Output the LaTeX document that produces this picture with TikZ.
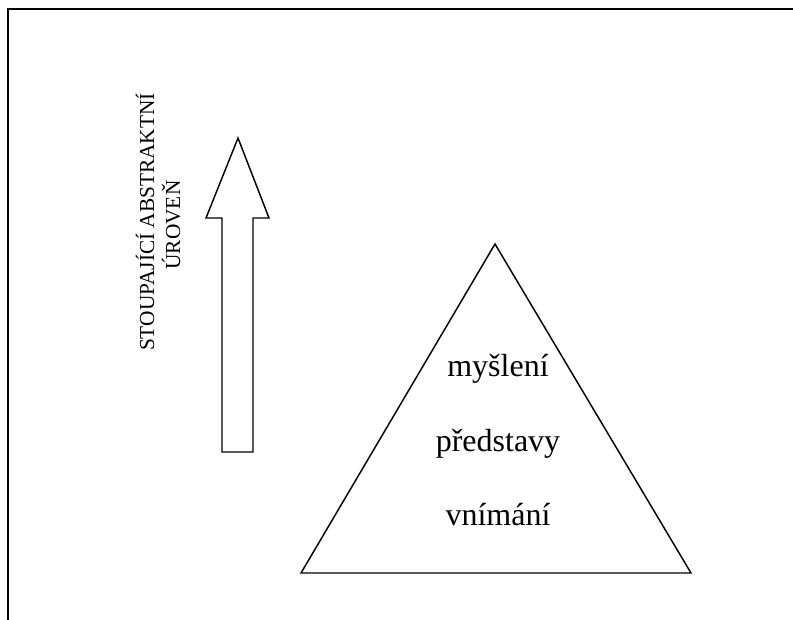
\documentclass[tikz,border=0pt]{standalone}
\usepackage{fontspec}
\setmainfont{Liberation Serif}
\begin{document}
\begin{tikzpicture}[x=0.75pt,y=-0.75pt,
  outline/.style={draw=black,line width=1.1pt,line join=miter},
  framerule/.style={draw=black,line width=1.6pt},
  leveltext/.style={font=\fontsize{24}{28}\selectfont,inner sep=0pt,anchor=base},
  sidetext/.style={font=\fontsize{16}{19}\selectfont,inner sep=0pt,rotate=90}]
\useasboundingbox (0,0) rectangle (793,620);
% page frame (top and left edges)
\draw[framerule] (8,620) -- (8,9) -- (793,9);
% hollow upward arrow
\draw[outline] (238,138) -- (269,218) -- (253,218) -- (253,452)
  -- (222,452) -- (222,218) -- (206,218) -- cycle;
% rotated caption beside the arrow
\node[sidetext] (cap1) at (145,222) {STOUPAJÍCÍ ABSTRAKTNÍ};
\node[sidetext] (cap2) at (171,225) {ÚROVEŇ};
% pyramid of levels
\coordinate (apex) at (495,244);
\coordinate (bl) at (301,573);
\coordinate (br) at (691,573);
\draw[outline] (apex) -- (br) -- (bl) -- cycle;
\node[leveltext] (l3) at (498,377) {myšlení};
\node[leveltext] (l2) at (498,451) {představy};
\node[leveltext] (l1) at (498,525) {vnímání};
\end{tikzpicture}
\end{document}
